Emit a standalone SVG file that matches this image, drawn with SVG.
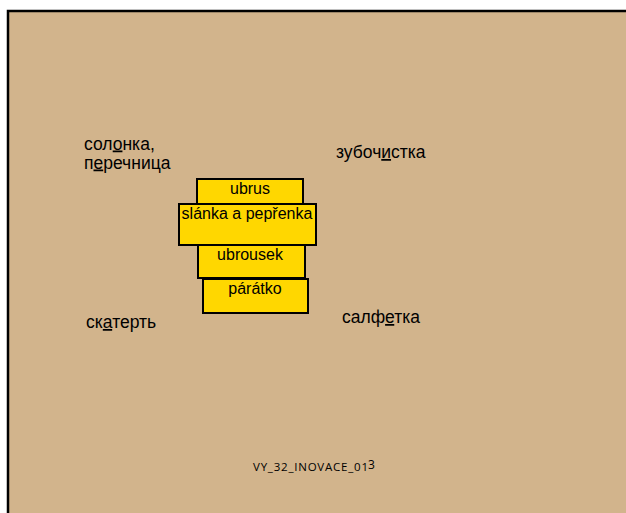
<svg xmlns="http://www.w3.org/2000/svg" width="626" height="513" viewBox="0 0 626 513">
<style>
.lbl{font-family:"Liberation Sans",Arial,sans-serif;font-size:17.5px;fill:#000}
.box{fill:#FFD700;stroke:#000;stroke-width:2}
.bt{font-family:"Liberation Sans",Arial,sans-serif;font-size:16px;fill:#000;text-anchor:middle}
.u{text-decoration:underline}
</style>
<rect x="0" y="0" width="626" height="513" fill="#fff"/>
<rect x="8" y="11" width="630" height="520" fill="#D2B48C" stroke="#000" stroke-width="2.5"/>
<g id="labels">
<text class="lbl" x="84" y="149.5">сол<tspan class="u">о</tspan>нка,</text>
<text class="lbl" x="84" y="168.5">п<tspan class="u">е</tspan>речница</text>
<text class="lbl" x="336" y="158">зубоч<tspan class="u">и</tspan>стка</text>
<text class="lbl" x="86" y="328">ск<tspan class="u">а</tspan>терть</text>
<text class="lbl" x="342" y="323">салф<tspan class="u">е</tspan>тка</text>
</g>
<g id="ubrus"><rect class="box" x="197" y="179" width="106" height="28"/><text class="bt" x="250" y="194">ubrus</text></g>
<g id="slanka"><rect class="box" x="179" y="204" width="137" height="41"/><text class="bt" x="247" y="219">slánka a pepřenka</text></g>
<g id="ubrousek"><rect class="box" x="198" y="245" width="107" height="33"/><text class="bt" x="250" y="260">ubrousek</text></g>
<g id="paratko"><rect class="box" x="203" y="279" width="105" height="34"/><text class="bt" x="255" y="294">párátko</text></g>
<g id="code"><text x="253" y="471" font-family="'Open Sans','Liberation Sans',sans-serif" font-size="11.5px" fill="#000" textLength="115" lengthAdjust="spacing">VY_32_INOVACE_01</text><text x="368" y="469" font-family="'Open Sans','Liberation Sans',sans-serif" font-size="12px" fill="#000">3</text></g>
</svg>
